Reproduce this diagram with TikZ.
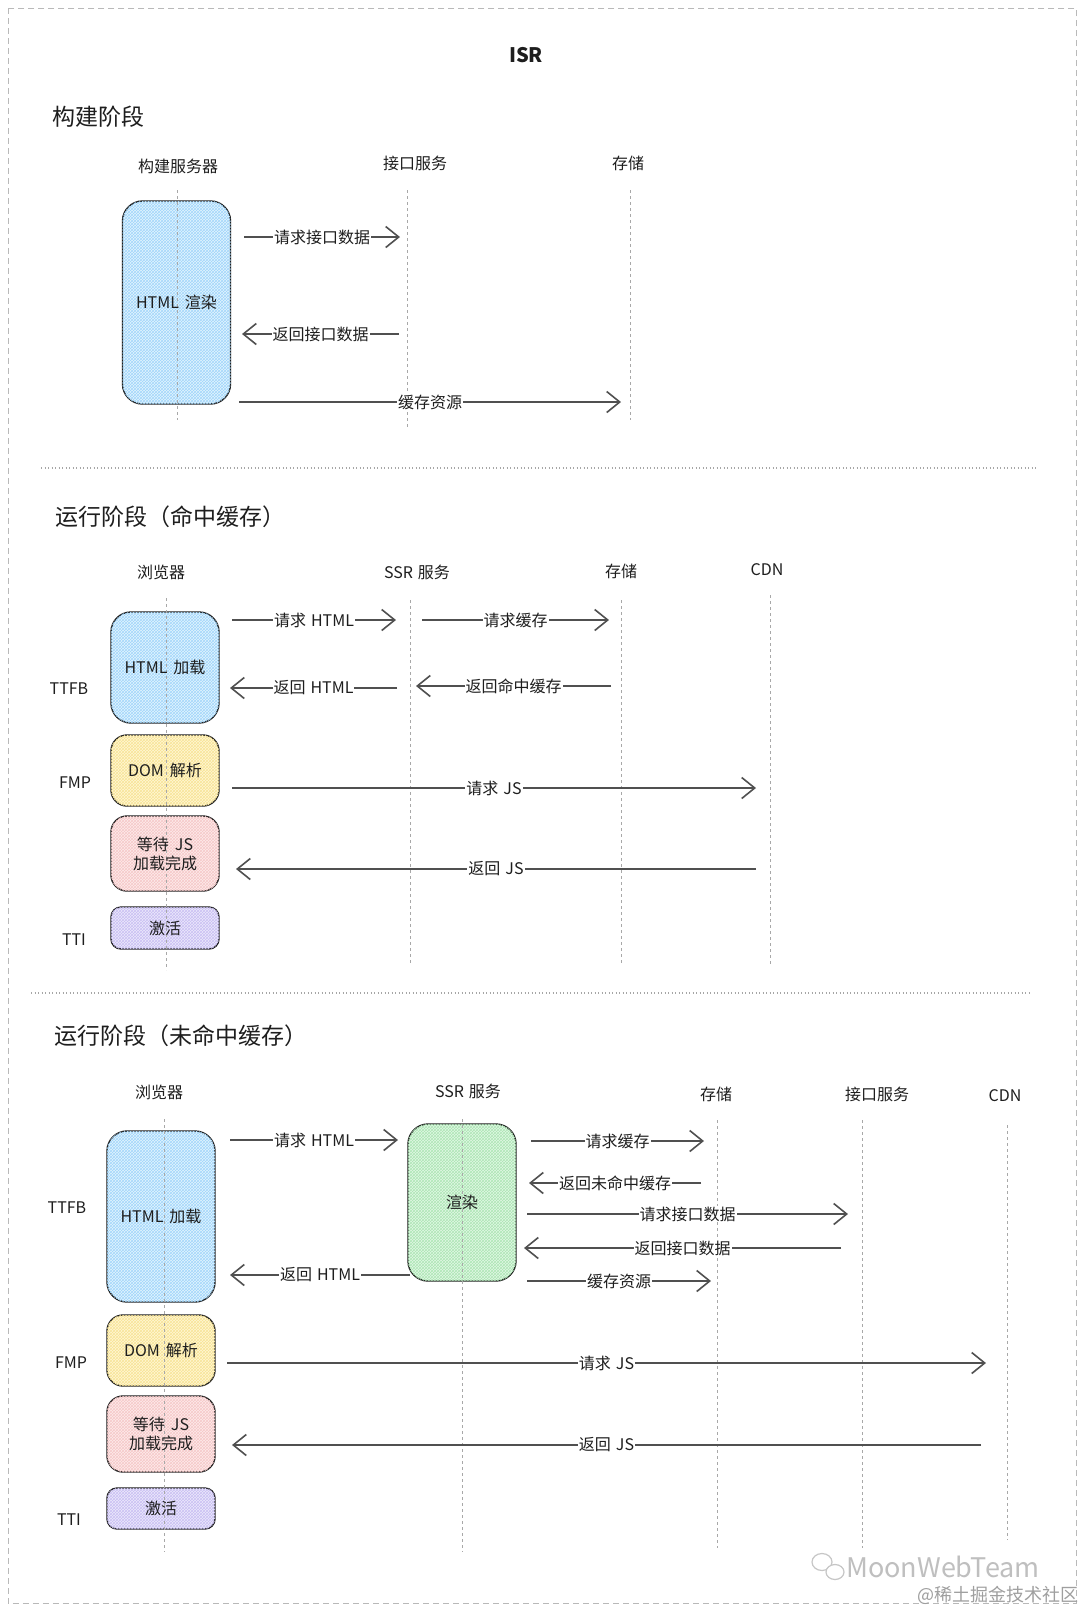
\documentclass[tikz,border=0pt]{standalone}
\usepackage{fontspec}
\setmainfont{Noto Sans CJK SC}
\usetikzlibrary{arrows.meta,patterns}
\definecolor{ink}{HTML}{1E1E1E}
\definecolor{arrowgray}{HTML}{505050}
\definecolor{lifegray}{HTML}{A8A8A8}
\definecolor{bluefill}{HTML}{E3F4FE}
\definecolor{bluehatch}{HTML}{A2D6FA}
\definecolor{yellowfill}{HTML}{FFF7D4}
\definecolor{yellowhatch}{HTML}{F8E496}
\definecolor{pinkfill}{HTML}{FDEBEB}
\definecolor{pinkhatch}{HTML}{F6C8C8}
\definecolor{purplefill}{HTML}{ECE9FC}
\definecolor{purplehatch}{HTML}{C9BFF3}
\definecolor{greenfill}{HTML}{E1F8E4}
\definecolor{greenhatch}{HTML}{ADE6B5}
\tikzset{
  txt/.style={text=ink, font=\fontsize{16}{19}\selectfont, inner sep=1pt},
  heading/.style={text=ink, font=\fontsize{23}{27}\selectfont, anchor=west, inner sep=0pt},
  life/.style={draw=lifegray, line width=0.7pt, dash pattern=on 3pt off 3pt},
  msg/.style={draw=arrowgray, line width=1.9pt, -{Straight Barb[length=13pt,width=21pt,line width=1.6pt]}},
  lbl/.style={txt, fill=white, inner sep=1pt, midway},
  sepline/.style={draw=gray!70, line width=1.2pt, dash pattern=on 1pt off 2.5pt},
  box/.style={draw=ink, line width=1.4pt, rounded corners=16pt, txt, align=center, minimum width=108pt},
  bluebox/.style={box, fill=bluefill, postaction={pattern=crosshatch, pattern color=bluehatch}},
  yellowbox/.style={box, fill=yellowfill, postaction={pattern=crosshatch, pattern color=yellowhatch}},
  pinkbox/.style={box, fill=pinkfill, postaction={pattern=crosshatch, pattern color=pinkhatch}},
  purplebox/.style={box, fill=purplefill, postaction={pattern=crosshatch, pattern color=purplehatch}, rounded corners=10pt},
  greenbox/.style={box, fill=greenfill, postaction={pattern=crosshatch, pattern color=greenhatch}},
}
\begin{document}
\begin{tikzpicture}[x=1pt,y=-1pt]
\useasboundingbox (0,0) rectangle (1080,1610);
\fill[white] (0,0) rectangle (1080,1610);
% outer dashed frame
\draw[draw=gray!55, line width=1pt, dash pattern=on 6pt off 4pt] (8,8) rectangle (1076,1603);

% ---------- title ----------
\node[txt, font=\bfseries\fontsize{20}{24}\selectfont] (title) at (526,55) {ISR};

% =========== Section 1 ===========
\node[heading] (h1) at (52,117) {构建阶段};
\node[txt] (p1a) at (178,166) {构建服务器};
\node[txt] (p1b) at (415,163) {接口服务};
\node[txt] (p1c) at (628,163) {存储};

\node[bluebox, minimum height=203pt, rounded corners=20pt] (b1) at (176.5,302.5) {};
\coordinate (l1at) at (177,190); \coordinate (l1ab) at (177,420);
\coordinate (l1bt) at (407,190); \coordinate (l1bb) at (407,427);
\coordinate (l1ct) at (630,190); \coordinate (l1cb) at (630,420);
\draw[life] (l1at) -- (l1ab);
\draw[life] (l1bt) -- (l1bb);
\draw[life] (l1ct) -- (l1cb);
\node[txt] (b1t) at (b1.center) {HTML\hspace{6pt}渲染};

\coordinate (m1a) at (244,237); \coordinate (m1b) at (400,237);
\coordinate (m2a) at (399,334); \coordinate (m2b) at (242,334);
\coordinate (m3a) at (239,402); \coordinate (m3b) at (621,402);
\draw[msg] (m1a) -- node[lbl] {请求接口数据} (m1b);
\draw[msg] (m2a) -- node[lbl] {返回接口数据} (m2b);
\draw[msg] (m3a) -- node[lbl] {缓存资源} (m3b);

\coordinate (s1a) at (41,468); \coordinate (s1b) at (1038,468);
\draw[sepline] (s1a) -- (s1b);

% =========== Section 2 ===========
\node[heading] (h2) at (55,517) {运行阶段（命中缓存）};
\node[txt] (p2a) at (161,572) {浏览器};
\node[txt] (p2b) at (417,572) {SSR\hspace{5pt}服务};
\node[txt] (p2c) at (621,571) {存储};
\node[txt] (p2d) at (767,570) {CDN};

\node[bluebox, minimum height=111pt, rounded corners=20pt] (b2a) at (165,667.5) {};
\node[yellowbox, minimum height=71pt] (b2b) at (165,770.5) {};
\node[pinkbox, minimum height=75pt] (b2c) at (165,853.5) {};
\node[purplebox, minimum height=42pt] (b2d) at (165,928) {};

\coordinate (l2at) at (166,598); \coordinate (l2ab) at (166,970);
\coordinate (l2bt) at (410,600); \coordinate (l2bb) at (410,963);
\coordinate (l2ct) at (621,600); \coordinate (l2cb) at (621,963);
\coordinate (l2dt) at (770,595); \coordinate (l2db) at (770,965);
\draw[life] (l2at) -- (l2ab);
\draw[life] (l2bt) -- (l2bb);
\draw[life] (l2ct) -- (l2cb);
\draw[life] (l2dt) -- (l2db);

\node[txt] (b2at) at (b2a.center) {HTML\hspace{6pt}加载};
\node[txt] (b2bt) at (b2b.center) {DOM\hspace{6pt}解析};
\node[txt, align=center] (b2ct) at (b2c.center) {等待\hspace{6pt}JS\\加载完成};
\node[txt] (b2dt) at (b2d.center) {激活};

\node[txt] (k2a) at (69,689) {TTFB};
\node[txt] (k2b) at (75,783) {FMP};
\node[txt] (k2c) at (74,940) {TTI};

\coordinate (n1a) at (232,620); \coordinate (n1b) at (396,620);
\coordinate (n2a) at (422,620); \coordinate (n2b) at (609,620);
\coordinate (n3a) at (397,688); \coordinate (n3b) at (230,688);
\coordinate (n4a) at (611,686); \coordinate (n4b) at (416,686);
\coordinate (n5a) at (232,788); \coordinate (n5b) at (756,788);
\coordinate (n6a) at (756,869); \coordinate (n6b) at (236,869);
\draw[msg] (n1a) -- node[lbl] {请求\hspace{5pt}HTML} (n1b);
\draw[msg] (n2a) -- node[lbl] {请求缓存} (n2b);
\draw[msg] (n3a) -- node[lbl] {返回\hspace{5pt}HTML} (n3b);
\draw[msg] (n4a) -- node[lbl] {返回命中缓存} (n4b);
\draw[msg] (n5a) -- node[lbl] {请求\hspace{5pt}JS} (n5b);
\draw[msg] (n6a) -- node[lbl] {返回\hspace{5pt}JS} (n6b);

\coordinate (s2a) at (31,993); \coordinate (s2b) at (1029,993);
\draw[sepline] (s2a) -- (s2b);

% =========== Section 3 ===========
\node[heading] (h3) at (54,1036) {运行阶段（未命中缓存）};
\node[txt] (p3a) at (159,1092) {浏览器};
\node[txt] (p3b) at (468,1091) {SSR\hspace{5pt}服务};
\node[txt] (p3c) at (716,1094) {存储};
\node[txt] (p3d) at (877,1094) {接口服务};
\node[txt] (p3e) at (1005,1096) {CDN};

\node[bluebox, minimum height=171pt, rounded corners=20pt] (b3a) at (161,1216.5) {};
\node[greenbox, minimum height=157pt, rounded corners=20pt] (b3r) at (462,1202.5) {};
\node[yellowbox, minimum height=71pt] (b3b) at (161,1350.5) {};
\node[pinkbox, minimum height=76pt] (b3c) at (161,1434) {};
\node[purplebox, minimum height=41pt] (b3d) at (161,1508.5) {};

\coordinate (l3at) at (164,1119); \coordinate (l3ab) at (164,1552);
\coordinate (l3bt) at (462,1119); \coordinate (l3bb) at (462,1552);
\coordinate (l3ct) at (717,1120); \coordinate (l3cb) at (717,1548);
\coordinate (l3dt) at (862,1120); \coordinate (l3db) at (862,1548);
\coordinate (l3et) at (1007,1125); \coordinate (l3eb) at (1007,1540);
\draw[life] (l3at) -- (l3ab);
\draw[life] (l3bt) -- (l3bb);
\draw[life] (l3ct) -- (l3cb);
\draw[life] (l3dt) -- (l3db);
\draw[life] (l3et) -- (l3eb);

\node[txt] (b3at) at (b3a.center) {HTML\hspace{6pt}加载};
\node[txt] (b3rt) at (b3r.center) {渲染};
\node[txt] (b3bt) at (b3b.center) {DOM\hspace{6pt}解析};
\node[txt, align=center] (b3ct) at (b3c.center) {等待\hspace{6pt}JS\\加载完成};
\node[txt] (b3dt) at (b3d.center) {激活};

\node[txt] (k3a) at (67,1208) {TTFB};
\node[txt] (k3b) at (71,1363) {FMP};
\node[txt] (k3c) at (69,1520) {TTI};

\coordinate (q1a) at (230,1140); \coordinate (q1b) at (398,1140);
\coordinate (q2a) at (410,1275); \coordinate (q2b) at (230,1275);
\coordinate (q3a) at (531,1141); \coordinate (q3b) at (704,1141);
\coordinate (q4a) at (701,1183); \coordinate (q4b) at (529,1183);
\coordinate (q5a) at (527,1214); \coordinate (q5b) at (848,1214);
\coordinate (q6a) at (841,1248); \coordinate (q6b) at (524,1248);
\coordinate (q7a) at (527,1281); \coordinate (q7b) at (711,1281);
\coordinate (q8a) at (227,1363); \coordinate (q8b) at (986,1363);
\coordinate (q9a) at (981,1445); \coordinate (q9b) at (232,1445);
\draw[msg] (q1a) -- node[lbl] {请求\hspace{5pt}HTML} (q1b);
\draw[msg] (q2a) -- node[lbl] {返回\hspace{5pt}HTML} (q2b);
\draw[msg] (q3a) -- node[lbl] {请求缓存} (q3b);
\draw[msg] (q4a) -- node[lbl] {返回未命中缓存} (q4b);
\draw[msg] (q5a) -- node[lbl] {请求接口数据} (q5b);
\draw[msg] (q6a) -- node[lbl] {返回接口数据} (q6b);
\draw[msg] (q7a) -- node[lbl] {缓存资源} (q7b);
\draw[msg] (q8a) -- node[lbl] {请求\hspace{5pt}JS} (q8b);
\draw[msg] (q9a) -- node[lbl] {返回\hspace{5pt}JS} (q9b);

% ---------- watermark ----------
\draw[gray!45, line width=1.2pt] (822,1562) ellipse (10pt and 8.5pt);
\draw[gray!45, line width=1.2pt, fill=white] (835,1572) ellipse (9pt and 7.5pt);
\node[anchor=west, text=gray!50, font=\fontsize{27}{30}\selectfont, inner sep=0pt] (wm) at (846,1567) {MoonWebTeam};
\node[anchor=east, text=gray!75, font=\fontsize{18}{20}\selectfont, inner sep=0pt] (wm2) at (1079,1595) {@稀土掘金技术社区};
\end{tikzpicture}
\end{document}
